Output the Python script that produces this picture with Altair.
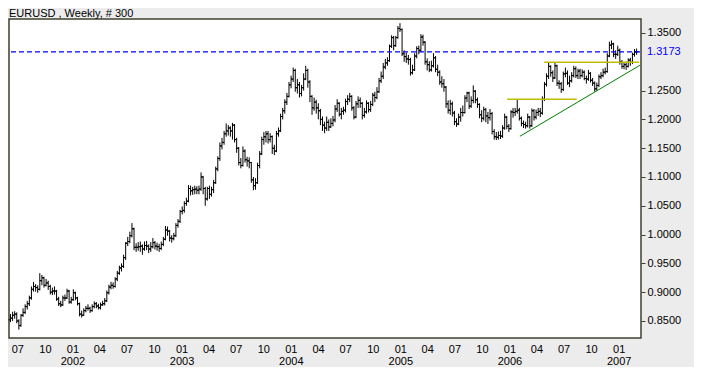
import altair as alt
import pandas as pd
from datetime import datetime, timedelta

TITLE = "EURUSD , Weekly, # 300"
FIRST_WEEK = "2001-06-08"
OPEN_FIRST = 8520

# weekly closes (price x 10000)
CLOSE = [
    8550, 8600, 8620, 8500, 8420, 8600, 8650, 8750, 8800, 8900,
    9050, 9100, 9080, 9050, 9200, 9250, 9120, 9160, 9100, 9000,
    9020, 9020, 8880, 8800, 8780, 8900, 8900, 9020, 8830, 8870,
    8990, 8900, 8800, 8620, 8600, 8680, 8720, 8720, 8680, 8750,
    8800, 8760, 8730, 8780, 8800, 8850, 8990, 9090, 9120, 9100,
    9230, 9330, 9420, 9450, 9600, 9850, 9880, 9980, 10100, 9780,
    9780, 9790, 9800, 9750, 9810, 9800, 9750, 9790, 9860, 9800,
    9790, 9760, 9830, 9920, 10080, 10060, 9940, 9930, 9980, 10160,
    10230, 10400, 10420, 10540, 10580, 10800, 10760, 10780, 10790, 10770,
    10790, 11000, 10800, 10620, 10800, 10700, 10780, 10900, 11140, 11320,
    11540, 11600, 11750, 11800, 11850, 11800, 11900, 11650, 11500, 11250,
    11200, 11450, 11300, 11280, 11250, 10950, 10850, 10900, 11200, 11400,
    11650, 11700, 11750, 11650, 11700, 11500, 11450, 11750, 11800, 12050,
    12150, 12300, 12400, 12600, 12700, 12850, 12550, 12600, 12450, 12550,
    12700, 12850, 12650, 12400, 12200, 12300, 12200, 12150, 12000, 11900,
    11850, 11950, 11870, 11930, 11990, 12180, 12280, 12090, 12140, 12160,
    12310, 12350, 12400, 12200, 12040, 12270, 12330, 12280, 12070, 12130,
    12280, 12170, 12260, 12420, 12380, 12480, 12670, 12750, 12910, 12980,
    13020, 13270, 13420, 13280, 13420, 13580, 13560, 13140, 13090, 13050,
    13040, 12810, 12860, 13100, 13230, 13200, 13430, 13340, 13000, 12950,
    12860, 12930, 13070, 12870, 12820, 12650, 12620, 12560, 12270, 12160,
    12270, 12110, 11960, 11920, 12040, 12120, 12120, 12370, 12460, 12230,
    12330, 12490, 12340, 12260, 12080, 12020, 12170, 12060, 12030, 12100,
    11790, 11700, 11690, 11720, 11710, 11850, 12040, 11880, 11840, 12130,
    12120, 12140, 12160, 12020, 11930, 11910, 11890, 12040, 11890, 12150,
    12040, 12120, 12140, 12110, 12350, 12610, 12750, 12920, 12810, 12720,
    12930, 12630, 12620, 12520, 12790, 12800, 12630, 12670, 12760, 12880,
    12760, 12840, 12760, 12820, 12710, 12700, 12800, 12680, 12630, 12530,
    12590, 12740, 12760, 12820, 12830, 13100, 13290, 13310, 13130, 13130,
    13200, 13000, 12920, 12950, 12920, 13030, 12990, 13130, 13170, 13173,
]

HIGH = [
    8620, 8660, 8670, 8650, 8530, 8620, 8720, 8790, 8850, 8940,
    9100, 9180, 9140, 9120, 9330, 9300, 9270, 9230, 9200, 9130,
    9080, 9100, 9040, 8920, 8850, 8940, 8960, 9060, 9040, 8920,
    9050, 9010, 8920, 8820, 8680, 8720, 8760, 8790, 8750, 8790,
    8840, 8830, 8800, 8820, 8850, 8900, 9030, 9130, 9180, 9170,
    9260, 9370, 9460, 9500, 9650, 9870, 9960, 10050, 10200, 10120,
    9850, 9870, 9880, 9830, 9880, 9890, 9830, 9870, 9940, 9890,
    9860, 9840, 9880, 9960, 10150, 10140, 10080, 9990, 10030, 10200,
    10270, 10430, 10490, 10580, 10640, 10860, 10850, 10830, 10850, 10840,
    10850, 11080, 11020, 10830, 10830, 10850, 10830, 10950, 11180, 11360,
    11600, 11680, 11800, 11930, 11900, 11880, 11940, 11920, 11680, 11520,
    11330, 11530, 11480, 11350, 11340, 11260, 11000, 10980, 11250, 11450,
    11700, 11780, 11800, 11800, 11760, 11720, 11560, 11800, 11860, 12100,
    12200, 12350, 12460, 12650, 12760, 12900, 12880, 12700, 12650, 12600,
    12800, 12930, 12880, 12680, 12420, 12380, 12340, 12280, 12180, 12050,
    11960, 12050, 12000, 12020, 12060, 12250, 12350, 12300, 12200, 12220,
    12360, 12420, 12460, 12420, 12230, 12320, 12400, 12380, 12300, 12200,
    12330, 12300, 12320, 12460, 12480, 12560, 12720, 12830, 12980, 13050,
    13080, 13300, 13460, 13450, 13450, 13620, 13670, 13580, 13200, 13160,
    13120, 13070, 12950, 13150, 13270, 13280, 13480, 13470, 13360, 13060,
    13010, 13020, 13150, 13100, 12950, 12850, 12750, 12700, 12580, 12330,
    12340, 12310, 12150, 12020, 12100, 12200, 12240, 12420, 12480, 12480,
    12400, 12590, 12510, 12380, 12280, 12160, 12220, 12200, 12130, 12180,
    12130, 11830, 11780, 11790, 11800, 11900, 12100, 12060, 11920, 12160,
    12200, 12200, 12340, 12200, 12050, 11980, 11960, 12100, 12060, 12190,
    12180, 12170, 12200, 12200, 12400, 12650, 12800, 12980, 12940, 12850,
    12980, 12950, 12680, 12650, 12830, 12900, 12850, 12760, 12820, 12930,
    12920, 12880, 12880, 12870, 12850, 12760, 12860, 12820, 12720, 12660,
    12640, 12780, 12820, 12880, 12900, 13150, 13350, 13370, 13330, 13200,
    13280, 13230, 13030, 12990, 13000, 13060, 13070, 13160, 13220, 13230,
]

LOW = [
    8480, 8500, 8540, 8460, 8350, 8400, 8570, 8620, 8700, 8760,
    8870, 9010, 9010, 8990, 9030, 9120, 9080, 9100, 9040, 8960,
    8950, 8960, 8850, 8760, 8740, 8760, 8850, 8880, 8800, 8800,
    8850, 8860, 8770, 8580, 8560, 8590, 8650, 8680, 8640, 8660,
    8720, 8720, 8700, 8700, 8760, 8770, 8830, 8960, 9050, 9060,
    9080, 9190, 9300, 9360, 9420, 9560, 9800, 9850, 9950, 9730,
    9700, 9720, 9700, 9650, 9720, 9730, 9680, 9700, 9760, 9740,
    9720, 9700, 9730, 9800, 9900, 9980, 9880, 9860, 9900, 9960,
    10120, 10200, 10350, 10380, 10500, 10560, 10680, 10690, 10700, 10700,
    10700, 10760, 10700, 10500, 10590, 10620, 10660, 10720, 10880, 11100,
    11280, 11480, 11560, 11700, 11720, 11700, 11650, 11600, 11420, 11200,
    11150, 11180, 11250, 11180, 11150, 10900, 10770, 10780, 10880, 11150,
    11380, 11560, 11600, 11580, 11600, 11400, 11380, 11430, 11700, 11780,
    12000, 12100, 12250, 12380, 12540, 12650, 12480, 12450, 12380, 12400,
    12500, 12680, 12550, 12300, 12080, 12150, 12100, 12000, 11900, 11800,
    11760, 11800, 11800, 11850, 11880, 11950, 12130, 12050, 12000, 12080,
    12120, 12250, 12300, 12150, 12000, 12020, 12200, 12200, 12000, 12030,
    12100, 12120, 12130, 12230, 12300, 12350, 12460, 12630, 12700, 12870,
    12930, 13000, 13240, 13200, 13260, 13400, 13520, 13100, 13000, 12980,
    12950, 12760, 12780, 12840, 13060, 13130, 13170, 13280, 12950, 12850,
    12820, 12830, 12900, 12820, 12750, 12600, 12550, 12480, 12200, 12100,
    12080, 12050, 11900, 11870, 11900, 11960, 12050, 12100, 12300, 12180,
    12200, 12280, 12280, 12200, 12020, 11950, 11980, 11950, 11920, 11980,
    11740, 11650, 11640, 11650, 11660, 11680, 11820, 11830, 11780, 11820,
    12030, 12060, 12100, 11980, 11880, 11850, 11840, 11860, 11840, 11870,
    11980, 12000, 12060, 12040, 12080, 12320, 12570, 12700, 12740, 12650,
    12700, 12580, 12530, 12460, 12490, 12730, 12600, 12560, 12640, 12730,
    12720, 12700, 12700, 12730, 12680, 12620, 12670, 12640, 12580, 12480,
    12500, 12560, 12700, 12730, 12780, 12810, 13080, 13220, 13080, 13050,
    13100, 12950, 12880, 12870, 12860, 12900, 12930, 12960, 13090, 13120,
]

LAST_CLOSE = 1.3173
LAST_LABEL = "1.3173"
Y_TICKS = [0.85, 0.90, 0.95, 1.00, 1.05, 1.10, 1.15, 1.20, 1.25, 1.35]
X_TICKS = [
    "2001-07-01", "2001-10-01", "2002-01-01", "2002-04-01", "2002-07-01",
    "2002-10-01", "2003-01-01", "2003-04-01", "2003-07-01", "2003-10-01",
    "2004-01-01", "2004-04-01", "2004-07-01", "2004-10-01", "2005-01-01",
    "2005-04-01", "2005-07-01", "2005-10-01", "2006-01-01", "2006-04-01",
    "2006-07-01", "2006-10-01", "2007-01-01",
]
# rising trend line (two points)
TREND_DATES = ["2006-02-05", "2007-03-13"]
TREND_PRICES = [1.1707, 1.2939]
# horizontal resistance lines
RANGE_START = ["2005-12-24", "2006-04-27"]
RANGE_END = ["2006-08-14", "2007-03-10"]
RANGE_PRICE = [1.2349, 1.2991]

FONT = "Liberation Sans"
BORDER = "#404030"
BG = "#ECECEC"


def iso(d):
    return d + "T00:00:00Z"


start = datetime.strptime(FIRST_WEEK, "%Y-%m-%d")
opens = [OPEN_FIRST] + CLOSE[:-1]
rows = []
for i, c in enumerate(CLOSE):
    o = opens[i]
    rows.append({
        "date": (start + timedelta(days=7 * i)).strftime("%Y-%m-%dT00:00:00Z"),
        "open": o / 1e4,
        "close": c / 1e4,
        "high": max(HIGH[i], o, c) / 1e4,
        "low": min(LOW[i], o, c) / 1e4,
    })
df = pd.DataFrame(rows)

trend_df = pd.DataFrame({"date": [iso(d) for d in TREND_DATES], "price": TREND_PRICES})
range_df = pd.DataFrame({"start": [iso(d) for d in RANGE_START],
                         "end": [iso(d) for d in RANGE_END],
                         "price": RANGE_PRICE})
last_df = pd.DataFrame({"price": [LAST_CLOSE], "label": [LAST_LABEL]})
title_df = pd.DataFrame({"t": [TITLE]})


def dt(s):
    y, m, d = s.split("-")
    return alt.DateTime(year=int(y), month=int(m), date=int(d), utc=True)


XSCALE = alt.Scale(type="utc", nice=False,
                   domain=[alt.DateTime(year=2001, month=6, date=3, utc=True),
                           alt.DateTime(year=2007, month=3, date=16, hours=17, utc=True)])
YSCALE = alt.Scale(domain=[0.82048, 1.37430], nice=False, zero=False)

XAXIS = alt.Axis(
    values=[dt(s) for s in X_TICKS],
    labelExpr="utcmonth(datum.value) == 0 ? [utcFormat(datum.value, '%m'), utcFormat(datum.value, '%Y')] : utcFormat(datum.value, '%m')",
    ticks=False, tickSize=0, domain=False, grid=False,
    labelPadding=5, labelLineHeight=12, labelFontSize=11, labelFont=FONT,
    labelColor="black", labelOverlap=False, labelFlush=False, title=None,
)
YAXIS = alt.Axis(
    orient="right", values=Y_TICKS, format=".4f", tickSize=4, tickColor=BORDER,
    tickWidth=1, domain=False, grid=False, labelPadding=2, labelFontSize=11,
    labelFont=FONT, labelColor="black", labelOverlap=False, labelFlush=False,
    title=None,
)


def X(field):
    return alt.X(field, scale=XSCALE, axis=XAXIS)


def Y(field):
    return alt.Y(field, scale=YSCALE, axis=YAXIS)


base = alt.Chart(df)
hl = base.mark_rule(color="black", strokeWidth=1).encode(
    x=X("date:T"), y=Y("low:Q"), y2="high:Q")
op = base.mark_tick(orient="horizontal", size=2, thickness=1, color="black",
                    opacity=1, xOffset=-1).encode(x=X("date:T"), y=Y("open:Q"))
cl = base.mark_tick(orient="horizontal", size=2, thickness=1, color="black",
                    opacity=1, xOffset=1).encode(x=X("date:T"), y=Y("close:Q"))

dash = alt.Chart(last_df).mark_rule(color="#0000FF", strokeWidth=1.2,
                                    strokeDash=[5, 3]).encode(
    y=Y("price:Q"), x=alt.value(2), x2=alt.value(632))

trend = alt.Chart(trend_df).mark_line(color="#008000", strokeWidth=1).encode(
    x=X("date:T"), y=Y("price:Q"))

ranges = alt.Chart(range_df).mark_rule(color="#BEBE00", strokeWidth=1.5).encode(
    x=X("start:T"), x2="end:T", y=Y("price:Q"))

lab = alt.Chart(last_df).mark_text(align="left", baseline="middle", color="#0000FF",
                                   fontSize=11, font=FONT).encode(
    y=Y("price:Q"), x=alt.value(638), text="label:N")

title_layer = alt.Chart(title_df).mark_text(align="left", baseline="top",
                                            fontSize=11, font=FONT, color="black").encode(
    x=alt.value(0), y=alt.value(-11), text="t:N")

chart = alt.layer(hl, op, cl, dash, trend, ranges, lab, title_layer).properties(
    width=632, height=319, background=BG,
    padding={"left": 1, "top": 11, "right": 53, "bottom": 29},
    autosize=alt.AutoSizeParams(type="none"),
).configure_view(fill="white", stroke=BORDER, strokeWidth=1.5)

chart.save("out.html", embed_options={"renderer": "svg", "actions": False})
